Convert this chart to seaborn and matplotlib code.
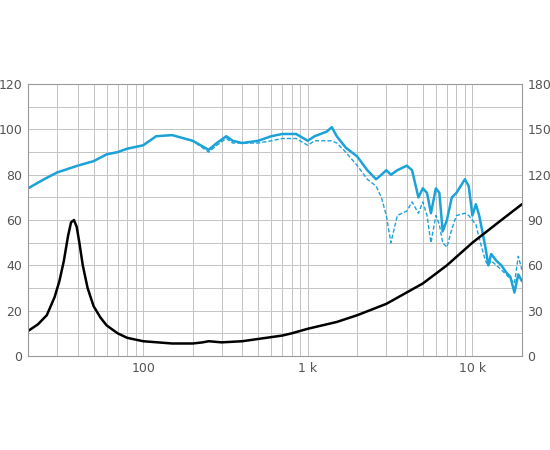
import numpy as np
import matplotlib
matplotlib.use("Agg")
import matplotlib.pyplot as plt
import seaborn as sns
from matplotlib.ticker import FixedLocator, NullFormatter

sns.set_style("white")
plt.rcParams['font.family'] = ['Liberation Sans Narrow', 'DejaVu Sans']

freq_spl = [20, 25, 30, 40, 50, 60, 70, 80, 100, 120, 150, 200, 250, 280, 320, 350, 400, 500, 600, 700,
            850, 1000, 1100, 1300, 1400, 1500, 1700, 2000, 2300, 2600, 2800, 3000, 3200, 3500, 4000, 4300,
            4700, 5000, 5300, 5600, 6000, 6300, 6600, 7000, 7500, 8000, 9000, 9500, 10000, 10500, 11000,
            12000, 12500, 13000, 14000, 15000, 16000, 17000, 18000, 19000, 20000]
spl_on = [74, 78, 81, 84, 86, 89, 90, 91.5, 93, 97, 97.5, 95, 91, 94, 97, 95, 94, 95, 97, 98,
          98, 95, 97, 99, 101, 97, 92, 88, 82, 78, 80, 82, 80, 82, 84, 82,
          70, 74, 72, 63, 74, 72, 55, 60, 70, 72, 78, 75, 62, 67, 62,
          48, 40, 45, 42, 40, 37, 35, 28, 36, 33]
spl_off = [74, 78, 81, 84, 86, 89, 90, 91.5, 93, 97, 97.5, 95, 90, 93, 96, 94, 94, 94, 95, 96,
           96, 93, 95, 95, 95, 94, 90, 84, 78, 75, 70, 62, 50, 62, 64, 68,
           63, 68, 62, 50, 62, 58, 50, 48, 56, 62, 63, 62, 60, 58, 52,
           42, 40, 42, 40, 38, 36, 34, 32, 44, 38]

freq_imp = [20, 23, 26, 29, 31, 33, 35, 36.5, 38, 39.5, 41, 43, 46, 50, 55, 60, 70, 80, 100,
            150, 200, 230, 250, 300, 400, 500, 700, 800, 1000, 1500, 2000, 3000, 5000, 7000, 10000,
            15000, 20000]
impedance = [11, 14, 18, 26, 33, 42, 53, 59, 60, 57, 50, 40, 30, 22, 17, 13.5, 10, 8, 6.5,
             5.5, 5.5, 6, 6.5, 6, 6.5, 7.5, 9, 10, 12, 15, 18, 23, 32, 40, 50, 60, 67]

blue = "#1ba3d9"
fig, ax = plt.subplots(figsize=(5.5, 4.5), dpi=100)
fig.subplots_adjust(left=0.051, right=0.949, top=0.813, bottom=0.209)

sns.lineplot(x=freq_spl, y=spl_off, ax=ax, color=blue, lw=1.0, linestyle=(0, (3, 1.5)))
sns.lineplot(x=freq_spl, y=spl_on, ax=ax, color=blue, lw=1.8)
sns.lineplot(x=freq_imp, y=impedance, ax=ax, color="black", lw=1.8)

ax.set_xscale("log")
ax.set_xlim(20, 20000)
ax.set_ylim(0, 120)
ax.set_yticks(range(0, 121, 20))
ax.yaxis.set_minor_locator(FixedLocator(range(10, 120, 20)))
ax.set_xticks([100, 1000, 10000])
ax.set_xticklabels(["100", "1 k", "10 k"])
ax.xaxis.set_minor_formatter(NullFormatter())
ax.grid(True, which="both", color="#c4c4c4", lw=0.7)
ax.tick_params(which="both", length=0, labelsize=9, colors="#555555", pad=4)
for s in ax.spines.values():
    s.set_color("#999999")
    s.set_linewidth(0.8)

ax2 = ax.twinx()
ax2.set_ylim(0, 180)
ax2.set_yticks(range(0, 181, 30))
ax2.tick_params(length=0, labelsize=9, colors="#555555", pad=4)
for s in ax2.spines.values():
    s.set_visible(False)

fig.savefig("out.png")
